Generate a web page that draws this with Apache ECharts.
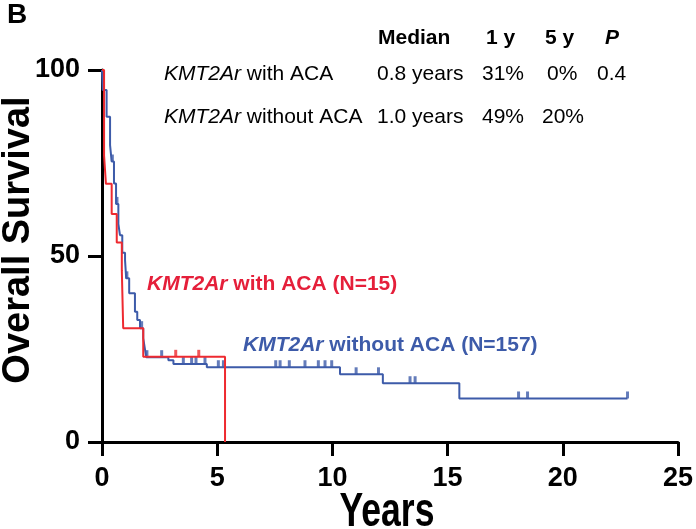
<!DOCTYPE html>
<html>
<head>
<meta charset="utf-8">
<script src="https://cdn.jsdelivr.net/npm/echarts@6/dist/echarts.min.js"></script>
<style>html,body{margin:0;padding:0;background:#fff}#c{width:696px;height:529px}</style>
</head>
<body>
<div id="c"></div>
<script>
// ---- data ----
var redTimes = [0, 0.09, 0.17, 0.42, 0.64, 0.86, 0.92, 1.79, 5.34];
var redSurv  = [100, 77, 69.4, 61.3, 53.6, 46.2, 30.6, 22.9, 0];
var redCensorTimes = [3.2, 4.2];
var redCensorSurv  = [22.9, 22.9];

var blueTimes = [0, 0.03, 0.2, 0.35, 0.42, 0.52, 0.61, 0.71, 0.78, 0.88, 1.0, 1.05, 1.18, 1.43, 1.53, 1.65, 1.79, 1.85, 1.92, 2.88, 3.1, 4.55, 10.33, 12.19, 15.51, 22.81];
var blueSurv  = [100, 94.6, 87.4, 79.8, 75.4, 69.5, 64, 58.6, 55.6, 50.9, 48.9, 44, 40, 35, 32.8, 30.6, 27.9, 25.5, 22.8, 22.0, 21.0, 20.1, 18.2, 15.8, 11.7, 11.7];
var blueCensorTimes = [0.45, 0.65, 1.08, 1.72, 1.95, 2.59, 3.53, 3.89, 4.08, 4.47, 5.05, 5.27, 7.54, 7.73, 8.13, 8.81, 9.39, 9.68, 9.97, 11.03, 12.0, 13.37, 13.59, 18.08, 18.47, 22.81];
var blueCensorSurv  = [75.4, 64, 44, 30.6, 22.8, 22.8, 21.0, 21.0, 21.0, 21.0, 20.1, 20.1, 20.1, 20.1, 20.1, 20.1, 20.1, 20.1, 20.1, 18.2, 18.2, 15.8, 15.8, 11.7, 11.7, 11.7];

var xTicks = [0, 5, 10, 15, 20, 25];
var yTicks = [0, 50, 100];

var tableHeader = ['Median', '1 y', '5 y', 'P'];
var row1 = ['0.8 years', '31%', '0%', '0.4'];
var row2 = ['1.0 years', '49%', '20%'];

// ---- build ----
function zip(a, b) { return a.map(function (v, i) { return [v, b[i]]; }); }
var RED = '#EE2A30', RED_TXT = '#E51F3A', BLUE = '#3D5BA9';
var FONT = 'Liberation Sans';

var chart = echarts.init(document.getElementById('c'), null, {renderer: 'canvas'});

function txt(x, y, text, size, weight, style, color) {
  return {type: 'text', x: x, y: y, style: {text: text, fontSize: size, fontWeight: weight || 'normal',
    fontStyle: style || 'normal', fill: color || '#000', fontFamily: FONT, align: 'left', verticalAlign: 'middle'}};
}
function richLabel(x, y, italicPart, rest, size, weight, color) {
  return {type: 'text', x: x, y: y, style: {
    text: '{i|' + italicPart + '}{n|' + rest + '}', fontFamily: FONT, verticalAlign: 'middle', align: 'left',
    rich: {
      i: {fontStyle: 'italic', fontWeight: weight, fontSize: size, fill: color, fontFamily: FONT},
      n: {fontWeight: weight, fontSize: size, fill: color, fontFamily: FONT}
    }}};
}

var colX = [378, 486, 545, 605];
var r1X = [377, 482, 547, 597];
var r2X = [377, 482, 542];

var graphics = [
  txt(7, 15, 'B', 28, 'bold'),
  {type: 'text', x: 19, y: 240, rotation: Math.PI / 2, style: {text: 'Overall Survival', fontSize: 38, fontWeight: 'bold',
    fill: '#000', fontFamily: FONT, align: 'center', verticalAlign: 'middle'}},
  {type: 'text', x: 387, y: 513, scaleX: 0.74, style: {text: 'Years', fontSize: 48, fontWeight: 'bold',
    fill: '#000', fontFamily: FONT, align: 'center', verticalAlign: 'middle'}},
  richLabel(164, 74.5, 'KMT2Ar', ' with ACA', 21, 'normal', '#000'),
  richLabel(164, 117.3, 'KMT2Ar', ' without ACA', 21, 'normal', '#000'),
  richLabel(147, 284.2, 'KMT2Ar', ' with ACA (N=15)', 21, 'bold', RED_TXT),
  richLabel(243, 345.7, 'KMT2Ar', ' without ACA (N=157)', 21, 'bold', BLUE)
];
tableHeader.forEach(function (h, i) {
  graphics.push(txt(colX[i], 38, h, 21, 'bold', h === 'P' ? 'italic' : 'normal'));
});
row1.forEach(function (v, i) { graphics.push(txt(r1X[i], 74.5, v, 21)); });
row2.forEach(function (v, i) { graphics.push(txt(r2X[i], 117.3, v, 21)); });

var axisCommon = {
  type: 'value',
  axisLine: {show: true, onZero: false, lineStyle: {color: '#000', width: 3}},
  axisTick: {show: true, inside: false, length: 14, lineStyle: {color: '#000', width: 3}},
  splitLine: {show: false},
  axisLabel: {fontSize: 27, fontWeight: 'bold', color: '#000', fontFamily: FONT}
};

var option = {
  animation: false,
  backgroundColor: '#fff',
  grid: {left: 102, right: 18, top: 70, bottom: 87, containLabel: false},
  xAxis: echarts.util.merge({
    min: xTicks[0], max: xTicks[xTicks.length - 1], interval: xTicks[1] - xTicks[0],
    axisLabel: {margin: 23}
  }, axisCommon),
  yAxis: echarts.util.merge({
    min: yTicks[0], max: yTicks[yTicks.length - 1], interval: yTicks[1] - yTicks[0],
    axisLabel: {margin: 22}
  }, axisCommon),
  graphic: graphics,
  series: [
    {type: 'line', step: 'end', data: zip(blueTimes, blueSurv), symbol: 'none',
      lineStyle: {color: BLUE, width: 2}, z: 2},
    {type: 'scatter', data: zip(blueCensorTimes, blueCensorSurv), symbol: 'rect',
      symbolSize: [3, 7], symbolOffset: [0, -3.5], itemStyle: {color: BLUE}, z: 2},
    {type: 'line', step: 'end', data: zip(redTimes, redSurv), symbol: 'none',
      lineStyle: {color: RED, width: 2}, z: 3},
    {type: 'scatter', data: zip(redCensorTimes, redCensorSurv), symbol: 'rect',
      symbolSize: [3, 7], symbolOffset: [0, -3.5], itemStyle: {color: RED}, z: 3}
  ]
};
chart.setOption(option);
</script>
</body>
</html>
